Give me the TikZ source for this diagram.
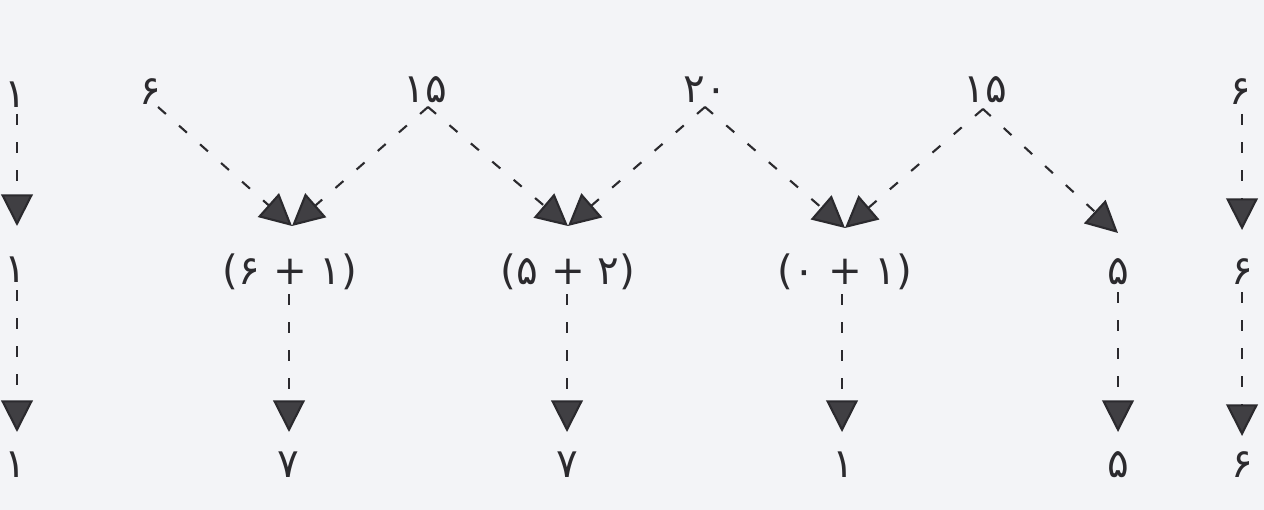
\documentclass[tikz,border=0pt]{standalone}
\usepackage{fontspec}
\newfontfamily\pfont{DejaVu Sans}
\usetikzlibrary{arrows.meta}
\definecolor{paper}{HTML}{F3F4F7}
\definecolor{ink}{HTML}{2B2A2E}
\tikzset{
  num/.style={font=\pfont\fontsize{23}{26}\selectfont, text=ink, inner sep=0pt},
  arr/.style={draw=ink, line width=1.2pt, dash pattern=on 6pt off 10pt,
    -{Triangle[length=18pt,width=18pt,fill=ink!90]}},
}
\begin{document}
\begin{tikzpicture}[x=0.02cm,y=-0.02cm]
\fill[paper] (0,0) rectangle (1264,510);
\useasboundingbox (0,0) rectangle (1264,510);
% top row
\node[num] (t1) at (15,95) {۱};
\node[num] (t2) at (150,92) {۶};
\node[num] (t3) at (425,90) {۱۵};
\node[num] (t4) at (705,90) {۲۰};
\node[num] (t5) at (985,90) {۱۵};
\node[num] (t6) at (1240,92) {۶};
% middle row
\node[num] (m1) at (15,270) {۱};
\node[num] (m2) at (290,272) {(۶ + ۱)};
\node[num] (m3) at (568,272) {(۵ + ۲)};
\node[num] (m4) at (845,272) {(۰ + ۱)};
\node[num] (m5) at (1118,272) {۵};
\node[num] (m6) at (1242,272) {۶};
% bottom row
\node[num] (b1) at (15,465) {۱};
\node[num] (b2) at (288,465) {۷};
\node[num] (b3) at (567,465) {۷};
\node[num] (b4) at (843,465) {۱};
\node[num] (b5) at (1118,465) {۵};
\node[num] (b6) at (1242,465) {۶};
% connector anchor points
\coordinate (s2) at (158,107);
\coordinate (a3) at (428,107);
\coordinate (a4) at (705,107);
\coordinate (a5) at (983,109);
\coordinate (c2) at (292,226);
\coordinate (c3) at (568,226);
\coordinate (c4) at (845,228);
\coordinate (c5) at (1118,233);
\coordinate (v1a) at (17,114);  \coordinate (v1b) at (17,226);
\coordinate (v6a) at (1242,114);\coordinate (v6b) at (1242,230);
\coordinate (w1a) at (17,290);  \coordinate (w1b) at (17,432);
\coordinate (w2a) at (289,294); \coordinate (w2b) at (289,432);
\coordinate (w3a) at (567,294); \coordinate (w3b) at (567,432);
\coordinate (w4a) at (842,294); \coordinate (w4b) at (842,432);
\coordinate (w5a) at (1118,292);\coordinate (w5b) at (1118,432);
\coordinate (w6a) at (1242,292);\coordinate (w6b) at (1242,436);
% diagonal arrows
\draw[arr] (s2) -- (c2);
\draw[arr] (a3) -- (c2);
\draw[arr] (a3) -- (c3);
\draw[arr] (a4) -- (c3);
\draw[arr] (a4) -- (c4);
\draw[arr] (a5) -- (c4);
\draw[arr] (a5) -- (c5);
% vertical arrows
\draw[arr] (v1a) -- (v1b);
\draw[arr] (v6a) -- (v6b);
\draw[arr] (w1a) -- (w1b);
\draw[arr] (w2a) -- (w2b);
\draw[arr] (w3a) -- (w3b);
\draw[arr] (w4a) -- (w4b);
\draw[arr] (w5a) -- (w5b);
\draw[arr] (w6a) -- (w6b);
\end{tikzpicture}
\end{document}
